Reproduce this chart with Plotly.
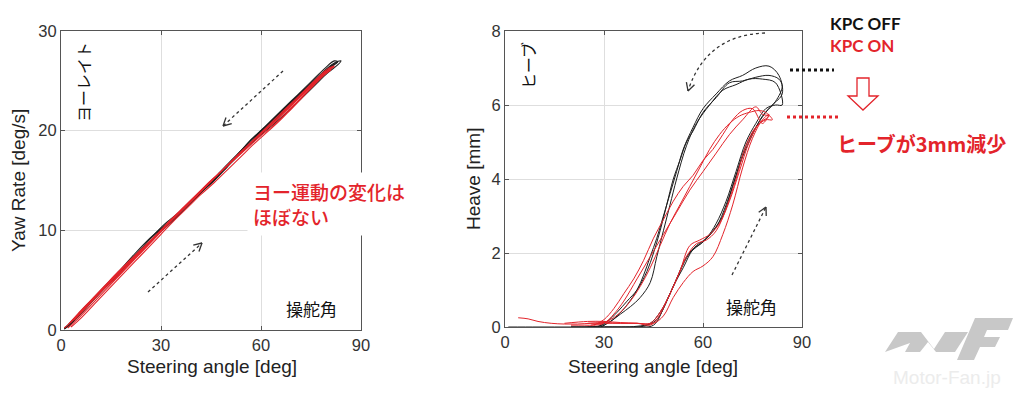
import numpy as np
import plotly.graph_objects as go

# page body has an 8px margin: figure is sized to fit inside the window
OFF = 8
W, H = 1024 - 2 * OFF, 397 - 2 * OFF

# ---------------- data ----------------
x_ticks = [0, 30, 60, 90]
yaw_ticks = [0, 10, 20, 30]
heave_ticks = [0, 2, 4, 6, 8]

# Yaw rate loops (steering angle [deg], yaw rate [deg/s])
yaw_off_1_x = [1, 4, 8, 12, 16, 20, 24, 27, 29, 31, 34, 38, 42, 46, 50, 54, 58, 62, 66, 70, 74, 78, 81, 83,
               82, 79, 75, 71, 67, 63, 59, 56, 54, 51, 47, 43, 39, 35, 31, 28, 25, 21, 17, 13, 9, 5, 2]
yaw_off_1_y = [0.2, 1.0, 2.4, 3.8, 5.2, 6.6, 7.9, 8.9, 9.6, 10.2, 11.1, 12.5, 13.8, 15.0, 16.4, 17.8, 19.2, 20.6, 21.9, 23.2, 24.4, 25.6, 26.4, 26.9,
               27.0, 26.2, 24.9, 23.6, 22.3, 21.0, 19.7, 18.7, 18.0, 17.0, 15.6, 14.3, 13.0, 11.7, 10.6, 9.6, 8.5, 7.1, 5.7, 4.3, 2.9, 1.5, 0.5]
yaw_off_2_x = [2, 5, 9, 13, 17, 21, 25, 28, 30, 33, 37, 41, 45, 49, 53, 55, 57, 61, 65, 69, 73, 77, 80, 82, 84,
               83, 80, 76, 72, 68, 64, 60, 56, 52, 48, 44, 40, 36, 32, 28, 24, 20, 16, 12, 8, 4, 1]
yaw_off_2_y = [0.4, 1.4, 2.9, 4.3, 5.6, 7.0, 8.3, 9.3, 10.0, 11.0, 12.2, 13.5, 14.8, 16.2, 17.6, 18.3, 19.1, 20.2, 21.5, 22.8, 24.1, 25.4, 26.3, 26.8, 27.0,
               26.6, 25.8, 24.5, 23.2, 21.9, 20.7, 19.6, 18.4, 17.1, 15.8, 14.4, 13.1, 11.8, 10.5, 9.3, 8.0, 6.6, 5.2, 3.9, 2.5, 1.1, 0.1]
yaw_off_3_x = [1, 3, 7, 11, 15, 19, 23, 26, 28, 30, 32, 36, 40, 44, 48, 52, 54, 58, 62, 66, 70, 74, 78, 82, 83,
               81, 77, 73, 69, 65, 61, 57, 53, 49, 45, 41, 37, 33, 29, 26, 22, 18, 14, 10, 6, 3]
yaw_off_3_y = [0.1, 0.6, 2.0, 3.5, 4.9, 6.3, 7.6, 8.6, 9.4, 10.1, 10.7, 11.9, 13.2, 14.5, 15.8, 17.2, 18.0, 19.4, 20.6, 21.8, 23.1, 24.3, 25.6, 26.7, 26.9,
               26.5, 25.2, 23.9, 22.6, 21.3, 20.0, 18.8, 17.5, 16.2, 14.9, 13.6, 12.3, 11.0, 9.9, 9.0, 7.6, 6.1, 4.7, 3.3, 1.9, 0.8]

yaw_on_1_x = [2, 5, 9, 13, 17, 21, 25, 29, 33, 37, 41, 45, 49, 53, 57, 60, 63, 66, 70, 74, 78, 81, 82,
              80, 76, 72, 68, 64, 60, 56, 52, 48, 44, 40, 36, 32, 28, 24, 20, 16, 12, 8, 4, 1]
yaw_on_1_y = [0.5, 1.6, 3.0, 4.4, 5.8, 7.1, 8.4, 9.7, 11.1, 12.4, 13.7, 15.0, 16.2, 17.4, 18.6, 19.5, 20.3, 21.2, 22.6, 24.0, 25.3, 26.2, 26.4,
              26.0, 24.8, 23.5, 22.1, 20.8, 19.7, 18.5, 17.2, 15.9, 14.6, 13.3, 12.0, 10.6, 9.3, 8.0, 6.7, 5.3, 3.9, 2.5, 1.1, 0.2]
yaw_on_2_x = [3, 6, 10, 14, 18, 22, 26, 30, 34, 38, 42, 46, 50, 54, 58, 62, 65, 68, 72, 76, 79, 81,
              79, 75, 71, 67, 63, 59, 55, 51, 47, 43, 39, 35, 31, 27, 23, 19, 15, 11, 7, 3]
yaw_on_2_y = [0.3, 1.2, 2.6, 4.0, 5.4, 6.8, 8.2, 9.6, 11.0, 12.3, 13.6, 14.8, 16.1, 17.4, 18.7, 19.9, 20.8, 21.8, 23.2, 24.6, 25.6, 26.1,
              25.8, 24.5, 23.2, 21.9, 20.6, 19.4, 18.2, 16.9, 15.6, 14.3, 12.9, 11.6, 10.3, 9.0, 7.6, 6.3, 4.9, 3.6, 2.2, 0.8]
yaw_on_3_x = [2, 5, 9, 13, 17, 21, 25, 29, 33, 37, 41, 45, 49, 53, 57, 61, 64, 67, 71, 75, 79, 82,
              80, 76, 72, 68, 64, 60, 56, 52, 48, 44, 40, 36, 32, 28, 24, 20, 16, 12, 8, 4]
yaw_on_3_y = [0.2, 1.1, 2.5, 3.9, 5.3, 6.7, 8.1, 9.5, 10.9, 12.2, 13.5, 14.9, 16.2, 17.5, 18.8, 20.0, 20.9, 21.9, 23.2, 24.6, 25.8, 26.5,
              26.2, 25.0, 23.7, 22.4, 21.1, 19.8, 18.5, 17.2, 15.9, 14.6, 13.2, 11.9, 10.6, 9.2, 7.9, 6.5, 5.1, 3.8, 2.4, 1.0]

# Heave loops (steering angle [deg], heave [mm])
heave_off_1_x = [1, 10, 20, 30, 40, 44, 47, 50, 53, 56, 60, 63, 66, 69, 72, 75, 78, 81, 84,
                 83, 80, 76, 72, 68, 64, 60, 57, 54, 52, 50, 48, 46, 44, 42, 40, 37, 34, 31, 28, 25, 20]
heave_off_1_y = [0.0, 0.0, 0.0, 0.0, 0.02, 0.1, 0.4, 0.9, 1.5, 2.0, 2.3, 2.6, 3.0, 3.8, 4.6, 5.2, 5.7, 6.0, 6.3,
                 6.8, 7.05, 7.0, 6.8, 6.65, 6.3, 5.9, 5.4, 4.8, 4.2, 3.6, 3.0, 2.4, 1.9, 1.4, 1.0, 0.6, 0.3, 0.1, 0.02, 0.0, 0.0]
heave_off_2_x = [20, 30, 40, 45, 48, 51, 54, 57, 60, 64, 67, 70, 73, 76, 79, 82, 84,
                 83, 80, 76, 72, 68, 64, 60, 57, 55, 53, 51, 49, 47, 45, 43, 40, 37, 34, 31, 28]
heave_off_2_y = [0.0, 0.0, 0.0, 0.05, 0.5, 1.1, 1.6, 2.1, 2.3, 2.7, 3.3, 4.1, 4.9, 5.4, 5.8, 6.1, 6.5,
                 6.7, 6.8, 6.75, 6.65, 6.6, 6.2, 5.8, 5.3, 5.0, 4.5, 4.0, 3.3, 2.6, 2.0, 1.5, 1.0, 0.7, 0.4, 0.15, 0.0]
heave_off_3_x = [25, 35, 42, 46, 49, 52, 55, 58, 61, 64, 67, 70, 73, 76, 79, 82, 84,
                 82, 78, 74, 70, 66, 62, 58, 55, 52, 50, 48, 46, 44, 41, 38, 35, 32, 29]
heave_off_3_y = [0.0, 0.0, 0.02, 0.2, 0.7, 1.3, 1.9, 2.2, 2.4, 2.8, 3.4, 4.2, 5.0, 5.5, 5.9, 6.0, 6.0,
                 6.6, 6.7, 6.7, 6.55, 6.4, 6.0, 5.5, 4.9, 4.0, 3.3, 2.6, 1.9, 1.2, 0.8, 0.55, 0.35, 0.15, 0.0]

heave_on_1_x = [4, 7, 10, 14, 18, 22, 26, 30, 35, 40, 44, 47, 50, 53, 56, 59, 62, 65, 68, 71, 74, 77, 80,
                78, 76, 72, 68, 64, 60, 56, 52, 48, 44, 40, 36, 33, 30, 27, 24, 20]
heave_on_1_y = [0.25, 0.22, 0.15, 0.1, 0.08, 0.08, 0.1, 0.1, 0.1, 0.1, 0.1, 0.4, 0.9, 1.5, 2.2, 2.35, 2.5, 2.8, 3.4, 4.2, 5.0, 5.5, 5.7,
                5.75, 5.95, 5.6, 5.2, 4.7, 4.2, 3.7, 3.1, 2.5, 1.9, 1.3, 0.7, 0.35, 0.1, 0.05, 0.05, 0.05]
heave_on_2_x = [18, 25, 30, 35, 40, 45, 48, 51, 54, 57, 60, 63, 66, 69, 72, 75, 78, 80,
                78, 75, 72, 69, 66, 63, 60, 57, 54, 51, 48, 45, 42, 39, 36, 33, 30, 27]
heave_on_2_y = [0.1, 0.15, 0.15, 0.12, 0.1, 0.1, 0.3, 0.8, 1.2, 1.5, 1.65, 1.9, 2.5, 3.3, 4.3, 5.1, 5.6, 5.75,
                5.5, 5.9, 5.85, 5.6, 5.2, 4.8, 4.5, 4.1, 3.8, 3.4, 2.9, 2.4, 1.8, 1.3, 0.9, 0.5, 0.2, 0.05]
heave_on_3_x = [25, 30, 35, 40, 44, 46, 49, 52, 55, 58, 61, 64, 67, 70, 73, 76, 79, 81,
                79, 77, 74, 71, 68, 65, 62, 59, 56, 53, 50, 47, 44, 41, 38, 35, 32, 29, 26]
heave_on_3_y = [0.1, 0.12, 0.1, 0.1, 0.05, 0.2, 0.7, 1.3, 1.9, 2.25, 2.35, 2.6, 3.2, 4.0, 4.9, 5.4, 5.6, 5.6,
                5.8, 5.85, 5.8, 5.7, 5.5, 5.2, 4.8, 4.3, 3.8, 3.3, 2.8, 2.2, 1.6, 1.1, 0.7, 0.4, 0.2, 0.1, 0.05]

BLACK = "#1e1e1e"
RED = "#e3242b"

yaw_off = [(yaw_off_1_x, yaw_off_1_y), (yaw_off_2_x, yaw_off_2_y), (yaw_off_3_x, yaw_off_3_y)]
yaw_on = [(yaw_on_1_x, yaw_on_1_y), (yaw_on_2_x, yaw_on_2_y), (yaw_on_3_x, yaw_on_3_y)]
heave_off = [(heave_off_1_x, heave_off_1_y), (heave_off_2_x, heave_off_2_y), (heave_off_3_x, heave_off_3_y)]
heave_on = [(heave_on_1_x, heave_on_1_y), (heave_on_2_x, heave_on_2_y), (heave_on_3_x, heave_on_3_y)]

fig = go.Figure()
for xs, ys in yaw_off:
    fig.add_trace(go.Scatter(x=xs, y=ys, mode="lines", line=dict(color=BLACK, width=1.1, shape="spline"),
                             xaxis="x", yaxis="y", showlegend=False, hoverinfo="skip"))
for xs, ys in yaw_on:
    fig.add_trace(go.Scatter(x=xs, y=ys, mode="lines", line=dict(color=RED, width=1.1, shape="spline"),
                             xaxis="x", yaxis="y", showlegend=False, hoverinfo="skip"))
for xs, ys in heave_off:
    fig.add_trace(go.Scatter(x=xs, y=ys, mode="lines", line=dict(color=BLACK, width=1.0, shape="spline"),
                             xaxis="x2", yaxis="y2", showlegend=False, hoverinfo="skip"))
for xs, ys in heave_on:
    fig.add_trace(go.Scatter(x=xs, y=ys, mode="lines", line=dict(color=RED, width=1.0, shape="spline"),
                             xaxis="x2", yaxis="y2", showlegend=False, hoverinfo="skip"))


def px(x):
    return (x - OFF) / W


def py(y):
    return 1 - (y - OFF) / H


FONT = "Liberation Sans, Arial, sans-serif"
JP = "Noto Sans CJK JP, sans-serif"

axis_common = dict(showline=True, linecolor="#555", linewidth=1, mirror="ticks", ticks="inside", ticklen=4,
                   tickcolor="#555", showgrid=True, gridcolor="#dedede", gridwidth=1, zeroline=False,
                   tickfont=dict(family=FONT, size=16.5, color="#333"), fixedrange=True, automargin=False)

fig.update_layout(
    width=W, height=H, margin=dict(l=0, r=0, t=0, b=0, autoexpand=False),
    paper_bgcolor="white", plot_bgcolor="white",
    xaxis=dict(domain=[px(61), px(361)], range=[0, 90], tickvals=x_ticks, anchor="y", **axis_common),
    yaxis=dict(domain=[py(330), py(31)], range=[0, 30], tickvals=yaw_ticks, anchor="x", **axis_common),
    xaxis2=dict(domain=[px(505), px(802)], range=[0, 90], tickvals=x_ticks, anchor="y2", **axis_common),
    yaxis2=dict(domain=[py(327), py(31)], range=[0, 8], tickvals=heave_ticks, anchor="x2", **axis_common),
)

ann = []


def text(x, y, s, size, color="#222", family=FONT, angle=0, xanchor="center", yanchor="middle", **kw):
    ann.append(dict(x=px(x), y=py(y), xref="paper", yref="paper", text=s, showarrow=False,
                    font=dict(family=family, size=size, color=color), textangle=angle,
                    xanchor=xanchor, yanchor=yanchor, **kw))


# axis titles
text(212, 366, "Steering angle [deg]", 19)
text(653, 366, "Steering angle [deg]", 19)
text(18, 181, "Yaw Rate [deg/s]", 19, angle=-90)
text(473, 179, "Heave [mm]", 19, angle=-90)

# in-plot labels
text(83, 82, "ヨーレイト", 16, color="#111", family=JP, angle=-90)
text(528, 66, "ヒーブ", 16, color="#111", family=JP, angle=-90)
text(311, 308, "操舵角", 17, color="#111", family=JP)
text(751, 306, "操舵角", 17, color="#111", family=JP)

# red comment on yaw plot (white box)
ann.append(dict(x=px(247), y=py(204), xref="paper", yref="paper",
                text="ヨー運動の変化は<br>ほぼない", showarrow=False, align="left",
                font=dict(family=JP, size=19, color=RED, weight=500), xanchor="left", yanchor="middle",
                bgcolor="white", borderpad=5))

# legend-like texts
text(828, 23, "<b>KPC OFF</b>", 17, color="#111", family="Lato, Open Sans, sans-serif", xanchor="left")
text(828, 45, "<b>KPC ON</b>", 17, color=RED, family="Lato, Open Sans, sans-serif", xanchor="left")
ann.append(dict(x=px(835), y=py(143), xref="paper", yref="paper", text="ヒーブが3mm減少", showarrow=False,
                font=dict(family=JP, size=20, color=RED, weight=600), xanchor="left", yanchor="middle"))

# watermark text
text(947, 377, "Motor-Fan.jp", 19, color="#ececec", family=FONT)

fig.update_layout(annotations=ann)

shapes = []


def pline(x0, y0, x1, y1, color, width, dash="solid"):
    shapes.append(dict(type="line", xref="paper", yref="paper", x0=px(x0), y0=py(y0), x1=px(x1), y1=py(y1),
                       line=dict(color=color, width=width, dash=dash)))


def vhead(x0, y0, x1, y1, color="#333", size=9):
    d = np.array([x1 - x0, y1 - y0], dtype=float)
    d /= np.linalg.norm(d)
    for ang in (np.radians(28), -np.radians(28)):
        c, s = np.cos(ang), np.sin(ang)
        r = np.array([c * d[0] - s * d[1], s * d[0] + c * d[1]])
        bx, by = x1 - size * r[0], y1 - size * r[1]
        pline(bx, by, x1, y1, color, 1.3)


# dotted arrows, yaw plot
pline(283, 71, 223, 126, "#333", 1.3, "dot")
vhead(283, 71, 223, 126)
pline(148, 292, 202, 243, "#333", 1.3, "dot")
vhead(148, 292, 202, 243)

# dotted arrows, heave plot
curve = "M {},{} Q {},{} {},{}".format(px(765), py(33), px(706), py(35), px(688), py(91))
shapes.append(dict(type="path", xref="paper", yref="paper", path=curve,
                   line=dict(color="#333", width=1.3, dash="dot")))
vhead(706, 35, 688, 91)
pline(732, 275, 766, 207, "#333", 1.3, "dot")
vhead(732, 275, 766, 207)

# level markers
pline(790, 70, 834, 70, "#111", 3, "dot")
pline(787, 117, 838, 117, RED, 3, "dot")

# hollow red down arrow
pts = [(857, 78), (869, 78), (869, 96), (878, 96), (863, 110), (848, 96), (857, 96)]
path = "M " + " L ".join("{},{}".format(px(a), py(b)) for a, b in pts) + " Z"
shapes.append(dict(type="path", xref="paper", yref="paper", path=path, fillcolor="white",
                   line=dict(color=RED, width=1.3)))

# watermark logo
logo_parts = [
    [(885, 352), (898, 332), (921, 332), (934, 349), (945, 332), (968, 332), (955, 352), (936, 352), (928, 342), (920, 352), (905, 352), (910, 343)],
    [(957, 360), (975, 318), (1013, 318), (1008, 330), (987, 330), (984, 337), (1000, 337), (995, 347), (980, 347), (974, 360)],
]
for part in logo_parts:
    p = "M " + " L ".join("{},{}".format(px(a), py(b)) for a, b in part) + " Z"
    shapes.append(dict(type="path", xref="paper", yref="paper", path=p, fillcolor="#c8c8c8",
                       line=dict(width=0), layer="below"))

fig.update_layout(shapes=shapes)
fig.write_html("out.html")
